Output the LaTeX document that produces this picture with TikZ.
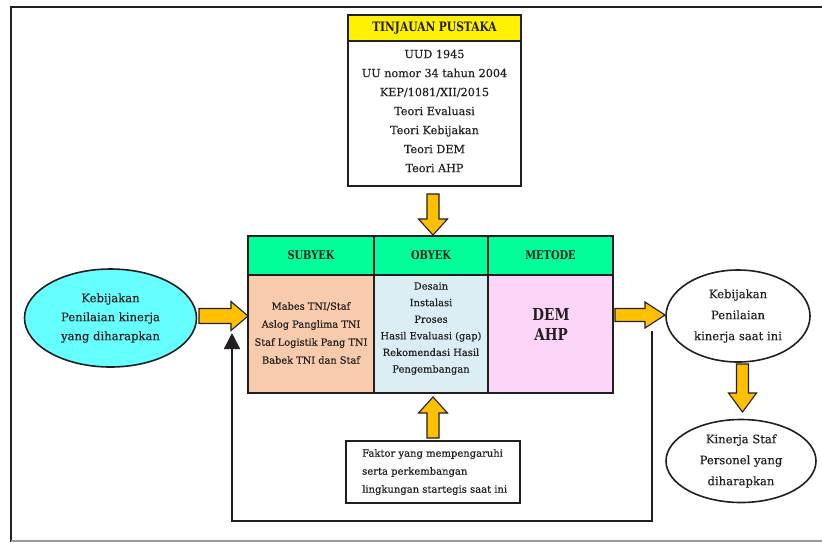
\documentclass[tikz,border=0pt]{standalone}
\usepackage{fontspec}
\setmainfont{DejaVu Serif}[UprightFeatures={FakeBold=0.35}]
\usetikzlibrary{shapes.geometric,arrows.meta}
\definecolor{ink}{HTML}{231F20}
\definecolor{txt}{HTML}{231F20}
\definecolor{headyellow}{HTML}{FFF200}
\definecolor{headgreen}{HTML}{00FF99}
\definecolor{peach}{HTML}{F8CBAD}
\definecolor{paleblue}{HTML}{DAEEF3}
\definecolor{palepink}{HTML}{FDD5F8}
\definecolor{aqua}{HTML}{66FFFF}
\definecolor{amber}{HTML}{FFC000}
\definecolor{framegray}{HTML}{9A9A9A}
% narrow bold caption text
\newcommand{\narrowcaps}[1]{\scalebox{0.82}[1]{#1}}
\tikzset{
  box/.style={draw=ink, line width=1.8pt, rectangle, inner sep=0pt, text=txt},
  oval/.style={draw=ink, line width=1.6pt, ellipse, inner sep=0pt, align=center, text=txt,
    font=\fontsize{11.6}{19}\selectfont},
  headtext/.style={font=\fontsize{12}{14}\selectfont\bfseries},
  bodytext/.style={align=center, text=txt, inner sep=0pt},
  blockfill/.style={fill=amber, draw=ink, line width=1.1pt, line join=miter},
  % block arrow: #1 length, #2 half shaft, #3 half head, #4 head length
  pics/blockarrow/.style n args={4}{code={
    \draw[blockfill] (0,-#2) -- ({#1-#4},-#2) -- ({#1-#4},-#3) -- (#1,0)
      -- ({#1-#4},#3) -- ({#1-#4},#2) -- (0,#2) -- cycle;
  }},
  feedback/.style={draw=ink, line width=1.6pt, -{Triangle[width=16pt,length=16pt]}}
}
\begin{document}
\begin{tikzpicture}[x=1pt,y=-1pt]
\useasboundingbox (0,0) rectangle (822,542);
\fill[white] (0,0) rectangle (822,542);

% outer frame
\draw[ink, line width=2.5pt] (11,542) -- (11,7) -- (830,7);
\draw[framegray, line width=1.5pt] (11,541) -- (830,541);

% literature block
\node[box, fill=white, minimum width=173pt, minimum height=146pt] (tpBody) at (434.5,113) {};
\node[box, fill=headyellow, minimum width=173pt, minimum height=26pt,
  font=\fontsize{13}{15}\selectfont\bfseries] (tpHead) at (434.5,28) {\narrowcaps{TINJAUAN PUSTAKA}};
\node[bodytext, font=\fontsize{11.2}{19}\selectfont] (tpList) at (434.5,111)
  {UUD 1945\\UU nomor 34 tahun 2004\\KEP/1081/XII/2015\\Teori Evaluasi\\Teori Kebijakan\\Teori DEM\\Teori AHP};

% table: headers
\node[box, fill=headgreen, minimum width=126pt, minimum height=39pt, headtext] (sHead) at (311,255.5) {\narrowcaps{SUBYEK}};
\node[box, fill=headgreen, minimum width=114pt, minimum height=39pt, headtext] (oHead) at (431,255.5) {\narrowcaps{OBYEK}};
\node[box, fill=headgreen, minimum width=125pt, minimum height=39pt, headtext] (mHead) at (550.5,255.5) {\narrowcaps{METODE}};
% table: bodies
\node[box, fill=peach, minimum width=126pt, minimum height=118pt] (sBody) at (311,334) {};
\node[box, fill=paleblue, minimum width=114pt, minimum height=118pt] (oBody) at (431,334) {};
\node[box, fill=palepink, minimum width=125pt, minimum height=118pt] (mBody) at (550.5,334) {};
\node[bodytext, font=\fontsize{9.8}{18}\selectfont] (sText) at (311,333)
  {Mabes TNI/Staf\\Aslog Panglima TNI\\Staf Logistik Pang TNI\\Babek TNI dan Staf};
\node[bodytext, font=\fontsize{9.9}{16.6}\selectfont] (oText) at (431,328.5)
  {Desain\\Instalasi\\Proses\\Hasil Evaluasi (gap)\\Rekomendasi Hasil\\Pengembangan};
\node[bodytext, font=\fontsize{16.5}{20}\selectfont\bfseries] (mText) at (551,324)
  {\narrowcaps{DEM}\\\narrowcaps{AHP}};

% ovals
\node[oval, fill=aqua, minimum width=172pt, minimum height=98pt] (goal) at (110.5,318)
  {Kebijakan\\Penilaian kinerja\\yang diharapkan};
\node[oval, fill=white, minimum width=144pt, minimum height=92pt, font=\fontsize{11.6}{21}\selectfont] (now) at (738,316)
  {Kebijakan\\Penilaian\\kinerja saat ini};
\node[oval, fill=white, minimum width=150pt, minimum height=83pt, font=\fontsize{11.6}{21}\selectfont] (staff) at (741,461)
  {Kinerja Staf\\Personel yang\\diharapkan};

% factors box
\node[box, fill=white, minimum width=174pt, minimum height=62pt] (factor) at (433,472) {};
\node[bodytext, align=left, anchor=west, font=\fontsize{10}{18}\selectfont] (factorText) at (362,472)
  {Faktor yang mempengaruhi\\serta perkembangan\\lingkungan startegis saat ini};

% block arrows
\pic[rotate=-90] at (433,194) {blockarrow={41}{6}{14.5}{16}};
\pic at (199,316) {blockarrow={49}{7.5}{14.5}{17}};
\pic at (615,315) {blockarrow={50}{6.5}{13}{20}};
\pic[rotate=-90] at (742.5,364) {blockarrow={48}{6}{14}{19}};
\pic[rotate=90] at (433,438) {blockarrow={41}{6}{14.5}{16}};

% feedback loop
\coordinate (fbStart) at (652,331);
\coordinate (fbTurnA) at (652,521);
\coordinate (fbTurnB) at (232,521);
\coordinate (fbEnd) at (232,333);
\draw[feedback] (fbStart) -- (fbTurnA) -- (fbTurnB) -- (fbEnd);
\end{tikzpicture}
\end{document}
